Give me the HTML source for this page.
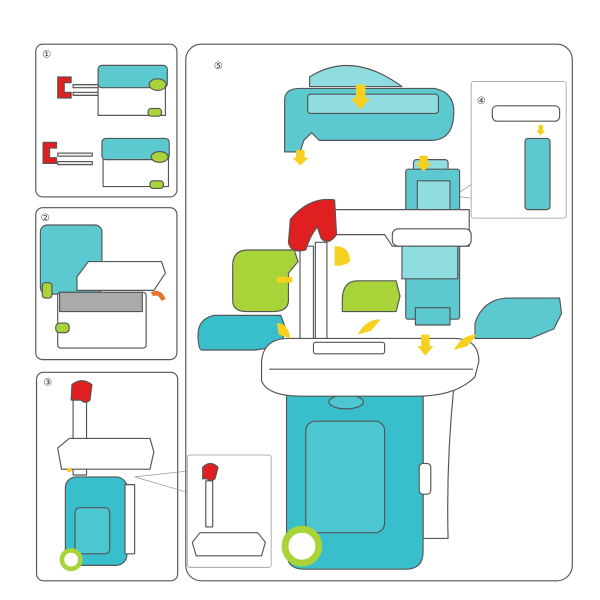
<!DOCTYPE html>
<html><head><style>html,body{margin:0;padding:0;background:#fff}svg{display:block}</style></head><body>
<svg width="600" height="600" viewBox="0 0 1560 1560" xmlns="http://www.w3.org/2000/svg" font-family="Liberation Sans, sans-serif">
<g fill="none" stroke="#555" stroke-width="3">
<rect x="93" y="115" width="367" height="397" rx="18"/>
<rect x="93" y="540" width="367" height="395" rx="18"/>
<rect x="95" y="968" width="367" height="542" rx="18"/>
<rect x="483" y="115" width="1005" height="1395" rx="40"/>
</g>
<g fill="none" stroke="#999" stroke-width="2">
<rect x="1225" y="212" width="247" height="355" rx="6"/>
<rect x="487" y="1183" width="218" height="292" rx="6"/>
<polyline points="1225,480 1180,510 1225,515"/>
<polyline points="487,1225 350,1240 487,1280"/>
</g>
<g font-size="26" fill="#333">
<text x="110" y="150">①</text><text x="106" y="574">②</text><text x="112" y="1002">③</text>
<text x="1240" y="270">④</text><text x="556" y="180">⑤</text></g>
<g stroke="#555" stroke-width="3" stroke-linejoin="round">
<!-- panel1 -->
<path d="M150 200h35v15h-18v25h18v15h-35z" fill="#e02020"/>
<rect x="190" y="220" width="70" height="8" fill="#eee"/><rect x="190" y="240" width="70" height="8" fill="#eee"/>
<rect x="255" y="225" width="175" height="75" fill="#fff"/>
<rect x="255" y="170" width="180" height="58" rx="10" fill="#5cc8d0"/>
<ellipse cx="410" cy="220" rx="22" ry="15" fill="#a8d43a"/>
<rect x="385" y="282" width="35" height="20" rx="8" fill="#a8d43a"/>
<path d="M112 370h35v15h-18v25h18v15h-35z" fill="#e02020"/>
<rect x="150" y="398" width="90" height="8" fill="#eee"/><rect x="150" y="420" width="90" height="8" fill="#eee"/>
<rect x="268" y="410" width="170" height="75" fill="#fff"/>
<rect x="265" y="360" width="175" height="55" rx="10" fill="#5cc8d0"/>
<ellipse cx="415" cy="408" rx="22" ry="14" fill="#a8d43a"/>
<rect x="390" y="470" width="35" height="20" rx="8" fill="#a8d43a"/>
<!-- panel2 -->
<rect x="105" y="585" width="160" height="180" rx="18" fill="#5cc8d0"/>
<rect x="110" y="735" width="25" height="40" rx="8" fill="#a8d43a"/>
<rect x="150" y="760" width="230" height="145" rx="8" fill="#fff"/>
<rect x="155" y="760" width="215" height="50" fill="#aaa"/>
<path d="M200 720l30-40h190l10 30-30 45h-200z" fill="#fff"/>
<rect x="145" y="840" width="35" height="25" rx="10" fill="#a8d43a"/>
<path d="M395 765q20-10 30 15" stroke="#e8742a" stroke-width="12" fill="none"/>
<!-- panel3 -->
<rect x="190" y="1040" width="35" height="195" fill="#fff"/>
<path d="M187 1000q25-20 52 0l-5 40q-12 12-24 0l-25 0z" fill="#e02020"/>
<path d="M150 1165l30-25h210l10 35-10 45h-230z" fill="#fff"/>
<rect x="170" y="1240" width="160" height="230" rx="28" fill="#39bfcb"/>
<rect x="325" y="1260" width="25" height="180" fill="#fff"/>
<rect x="195" y="1320" width="90" height="120" rx="12" fill="#4cc6d0"/>
<circle cx="185" cy="1455" r="24" fill="#fff" stroke="#a8d43a" stroke-width="12"/>
<rect x="535" y="1250" width="18" height="120" fill="#fff"/>
<path d="M527 1215q20-20 40 0l-8 30q-12 10-20 0h-12z" fill="#e02020"/>
<path d="M500 1410l20-25h150l20 25-10 35h-170z" fill="#fff"/>
<!-- panel5 -->
<path d="M805 200q110-70 240 25h-240z" fill="#8fdde0"/>
<path d="M740 260q0-30 40-30h350q50 10 50 60q0 75-60 75h-290l-20-20-20 20-10 30h-40z" fill="#5cc8d0"/>
<rect x="800" y="245" width="340" height="50" rx="8" fill="#8fdde0"/>
<rect x="1075" y="415" width="90" height="40" rx="8" fill="#8fdde0"/>
<rect x="1055" y="440" width="140" height="390" rx="6" fill="#5cc8d0"/>
<rect x="1085" y="470" width="85" height="120" fill="#8fdde0"/>
<rect x="1080" y="800" width="90" height="45" fill="#5cc8d0"/>
<path d="M870 545h350v95h-200l-20-30h-130z" fill="#fff"/>
<rect x="1020" y="595" width="205" height="45" rx="15" fill="#fff"/>
<rect x="1045" y="640" width="145" height="85" fill="#8fdde0"/>
<rect x="1280" y="275" width="175" height="40" rx="12" fill="#fff"/>
<rect x="1365" y="360" width="65" height="185" rx="8" fill="#5cc8d0"/>
<rect x="780" y="640" width="35" height="285" fill="#fff"/>
<rect x="820" y="630" width="30" height="295" fill="#fff"/>
<path d="M755 570q50-60 115-50l5 90q-20 30-40 10l-10-30q-20 25-30 60q-40 10-45-20z" fill="#e02020"/>
<path d="M605 690q0-40 40-40h120l10 30-25 30v70q0 30-40 30h-70q-35 0-35-30z" fill="#a8d43a"/>
<path d="M890 780q0-50 40-50h100l10 40-10 40h-140z" fill="#a8d43a"/>
<path d="M515 870q0-40 40-50h175l15 40-20 40-60 10h-140q-10 0-10-40z" fill="#39bfcb"/>
<path d="M1235 840q20-60 80-65h140l5 40-20 40-60 25h-145z" fill="#5cc8d0"/>
<path d="M1100 1005h80q-20 200-15 395h-65z" fill="#fff"/>
<path d="M745 1005h355v430q0 45-45 45h-265q-45 0-45-45z" fill="#39bfcb"/>
<rect x="795" y="1095" width="205" height="290" rx="25" fill="#4cc6d0"/>
<ellipse cx="900" cy="1045" rx="45" ry="18" fill="#4cc6d0"/>
<path d="M680 940q5-60 70-60h430q65 0 65 60l-10 40q-50 50-150 50h-300q-90 0-105-40z" fill="#fff"/>
<path d="M700 960h530" fill="none"/>
<rect x="815" y="890" width="185" height="30" rx="6" fill="#fff"/>
<circle cx="785" cy="1420" r="44" fill="#fff" stroke="#a8d43a" stroke-width="18"/>
<rect x="1090" y="1205" width="30" height="80" rx="10" fill="#fff"/>
</g>
<g fill="#f5d020">
<path d="M925 220h25v35h12l-25 30-25-30h13z"/>
<path d="M770 390h22v20h10l-21 20-21-20h10z"/>
<path d="M1090 405h22v20h10l-21 20-21-20h10z"/>
<path d="M1095 870h22v30h10l-21 25-21-25h10z"/>
<path d="M1400 325h12v15h6l-12 12-12-12h6z"/>
<path d="M870 640q40 0 40 40-20 15-40 10z"/>
<path d="M720 840q30 0 35 40l-30-10z"/>
<path d="M930 870q20-40 60-40l-25 30z"/>
<path d="M1180 910q20-40 60-40l-25 30z"/>
<path d="M720 720h40v15h-40z"/>
<circle cx="180" cy="1222" r="6"/>
</g>
</svg>
</body></html>
